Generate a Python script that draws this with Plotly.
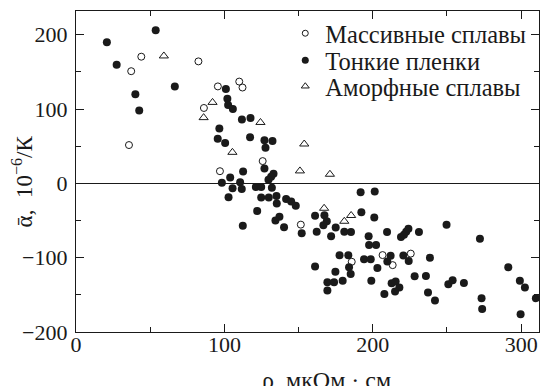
import plotly.graph_objects as go

# Massive alloys (open circles)
mass_x = [35.7, 37.2, 44.0, 82.5, 86.2, 95.6, 110.0, 112.2, 97.0, 125.8, 151.5, 185.8, 206.6, 213.4, 225.6]
mass_y = [51.6, 151.0, 170.5, 164.2, 101.5, 130.5, 137.0, 129.0, 16.4, 30.0, -55.5, -105.5, -96.5, -110.0, -94.5]

# Thin films (filled circles)
film_x = [20.8, 27.4, 53.7, 40.0, 42.6, 66.6,
          101.0, 102.0, 102.5, 105.7, 111.8, 117.6,
          96.6, 95.5, 100.5, 117.3, 127.0, 132.4, 127.7,
          127.0, 112.6, 103.9, 133.1, 131.5, 129.7,
          98.3, 110.6, 105.5, 111.7, 121.2, 124.8, 132.0,
          102.8, 124.8, 129.9, 135.1, 135.3,
          141.6, 145.0, 148.1,
          122.1, 137.1, 134.4, 140.2, 112.4,
          152.1, 161.1, 167.4, 169.0, 166.7, 175.0,
          162.2, 171.9, 180.8, 185.3,
          177.6, 183.5, 184.0, 185.1, 174.8, 161.1,
          169.4, 173.9, 169.4, 179.7,
          191.8, 201.3, 192.3, 201.0,
          197.2, 197.5, 202.2, 209.6,
          219.0, 221.0, 222.5, 224.0, 231.1, 249.7, 272.2,
          194.1, 198.6, 203.1, 199.0, 209.8, 212.0,
          220.6, 224.2, 238.5,
          212.7, 215.4, 217.9, 215.0, 207.8,
          228.2, 235.8, 237.2, 241.9,
          250.9, 253.8, 261.4, 273.3, 273.7,
          291.3, 299.1, 302.5, 299.6, 309.9]
film_y = [190.0, 159.5, 206.0, 120.0, 98.0, 130.5,
          127.0, 114.0, 105.5, 100.0, 86.0, 88.0,
          74.0, 60.0, 54.5, 62.0, 58.0, 57.0, 48.0,
          20.0, 16.0, 8.0, 13.0, 9.0, 5.0,
          1.0, 1.5, -6.5, -7.5, -5.0, -5.0, -6.0,
          -18.5, -19.0, -19.0, -17.0, -27.0,
          -21.0, -24.5, -30.0,
          -37.0, -45.0, -50.0, -59.0, -57.0,
          -67.0, -43.5, -43.0, -51.0, -56.5, -59.5,
          -65.0, -71.0, -65.0, -65.5,
          -96.6, -96.6, -113.0, -122.0, -119.0, -112.0,
          -133.0, -133.0, -144.0, -131.0,
          -12.0, -11.0, -39.0, -46.0,
          -71.0, -83.0, -83.0, -65.5,
          -72.0, -69.0, -65.0, -61.0, -65.5, -55.7, -74.4,
          -102.0, -102.0, -114.0, -131.0, -105.0, -97.5,
          -97.0, -104.6, -100.0,
          -134.5, -132.0, -140.0, -145.6, -148.7,
          -125.0, -124.7, -147.0, -157.6,
          -135.8, -130.5, -134.0, -154.5, -169.0,
          -113.0, -131.0, -140.0, -176.0, -154.5]

# Amorphous alloys (open triangles)
amor_x = [59.2, 92.0, 86.0, 124.3, 105.4, 153.8, 150.9, 171.1, 167.2, 180.8, 185.4]
amor_y = [171.5, 109.0, 88.5, 82.0, 41.8, 53.0, 16.8, 12.3, -33.5, -51.0, -43.2]

legend_names = ["Массивные сплавы", "Тонкие пленки", "Аморфные сплавы"]

x_tickvals = [0, 100, 200, 300]
x_ticktext = ["0", "100", "200", "300"]
y_tickvals = [-200, -100, 0, 100, 200]
y_ticktext = ["\u2212200", "\u2212100", "0", "100", "200"]

FONT = "'Liberation Serif', 'Times New Roman', 'DejaVu Serif', serif"
BLACK = "#1a1a1a"

fig = go.Figure()

fig.add_trace(go.Scatter(x=film_x, y=film_y, mode="markers", showlegend=False,
                         marker=dict(symbol="circle", size=8, color=BLACK, line=dict(width=0))))
fig.add_trace(go.Scatter(x=mass_x, y=mass_y, mode="markers", showlegend=False,
                         marker=dict(symbol="circle-open", size=7, color=BLACK, line=dict(width=1))))
fig.add_trace(go.Scatter(x=amor_x, y=amor_y, mode="markers", showlegend=False,
                         marker=dict(symbol="triangle-up-open", size=8, color=BLACK, line=dict(width=1))))

# legend entries (one legend per entry for exact spacing)
fig.add_trace(go.Scatter(x=[None], y=[None], mode="markers", name=legend_names[0], legend="legend",
                         marker=dict(symbol="circle-open", size=6, color=BLACK, line=dict(width=1))))
fig.add_trace(go.Scatter(x=[None], y=[None], mode="markers", name=legend_names[1], legend="legend2",
                         marker=dict(symbol="circle", size=7, color=BLACK)))
fig.add_trace(go.Scatter(x=[None], y=[None], mode="markers", name=legend_names[2], legend="legend3",
                         marker=dict(symbol="triangle-up-open", size=7, color=BLACK, line=dict(width=1))))

axis_common = dict(showline=True, linecolor=BLACK, linewidth=1.2, mirror="ticks",
                   ticks="inside", ticklen=8, tickwidth=1.1, tickcolor=BLACK,
                   showgrid=False, tickfont=dict(family=FONT, size=22, color=BLACK),
                   tickmode="array",
                   minor=dict(ticks="inside", ticklen=5, tickwidth=1.1, tickcolor=BLACK,
                              dtick=50, showgrid=False))

fig.update_xaxes(range=[0, 312], tickvals=x_tickvals, ticktext=x_ticktext,
                 zeroline=False, ticklabelstandoff=-8, **axis_common)
fig.update_yaxes(range=[-200, 232], tickvals=y_tickvals, ticktext=y_ticktext,
                 zeroline=True, zerolinecolor=BLACK, zerolinewidth=1.2,
                 ticklabelstandoff=3, **axis_common)

fig.add_annotation(text="\u03b1\u0304,  10<sup>\u22126</sup>/К", textangle=-90,
                   xref="paper", yref="paper", x=-0.116, y=0.47,
                   xanchor="center", yanchor="middle", showarrow=False,
                   font=dict(family=FONT, size=23, color=BLACK))
fig.add_annotation(text="ρ, мкОм · см",
                   xref="paper", yref="paper", x=0.54, y=-0.148,
                   xanchor="center", yanchor="middle", showarrow=False,
                   font=dict(family=FONT, size=24, color=BLACK))

def leg(yc):
    return dict(x=0.452, y=(331.7 - yc) / 321.0, xanchor="left", yanchor="middle",
                bgcolor="rgba(0,0,0,0)", borderwidth=0,
                font=dict(family=FONT, size=24.5, color=BLACK), itemsizing="trace")

fig.update_layout(
    width=540, height=386,
    margin=dict(l=76, r=1, t=11, b=54),
    paper_bgcolor="white", plot_bgcolor="white",
    legend=leg(33), legend2=leg(60), legend3=leg(86),
)

fig.write_html("out.html")
